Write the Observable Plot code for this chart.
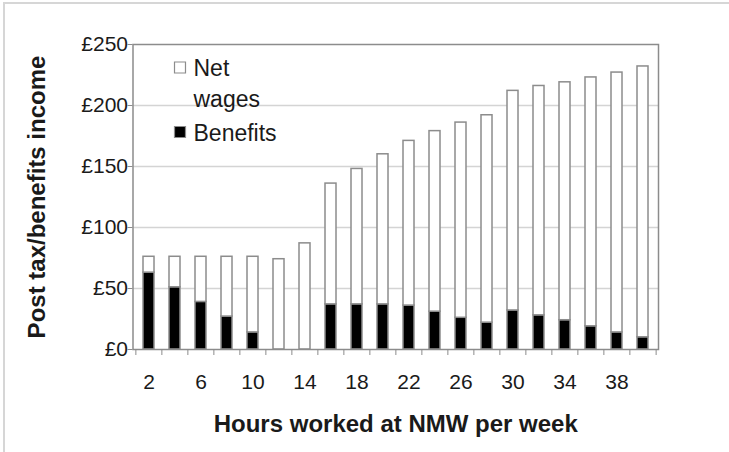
<!DOCTYPE html>
<html>
<head>
<meta charset="utf-8">
<script src="https://cdn.jsdelivr.net/npm/d3@7"></script>
<script src="https://cdn.jsdelivr.net/npm/@observablehq/plot@0.6"></script>
<style>
  html, body { margin: 0; padding: 0; background: #fff; }
  #wrap { position: relative; width: 729px; height: 452px; overflow: hidden; }
  #wrap svg { position: absolute; left: 0; top: 0; }
  .bl { position: absolute; left: 3px; top: 2px; width: 2px; height: 452px; background: #d6d6d6; }
  .bt { position: absolute; left: 3px; top: 2px; width: 726px; height: 2px; background: #d6d6d6; }
</style>
</head>
<body>
<div id="wrap"><div class="bl"></div><div class="bt"></div></div>
<script>
const hours = [2,4,6,8,10,12,14,16,18,20,22,24,26,28,30,32,34,36,38,40];
const benefits = [63,51,39,27,14,0,0,37,37,37,36,31,26,22,32,28,24,19,14,10];
const netWages = [13,25,37,49,62,74,87,99,111,123,135,148,160,170,180,188,195,204,213,222];
const yTicks = [0,50,100,150,200,250];
const xTickLabels = [2,6,10,14,18,22,26,30,34,38];
const seriesNames = ["Benefits","Net wages"];
const seriesColors = ["black","white"];

const rows = [];
hours.forEach((h, i) => {
  rows.push({hours: h, series: "Benefits", value: benefits[i]});
  rows.push({hours: h, series: "Net wages", value: netWages[i]});
});

const FONT = "'Liberation Sans', Arial, sans-serif";
const INK = "#1a1a1a";
const LINE = "#8c8c8c";
const halfStep = 13.14;

const chart = Plot.plot({
  width: 729,
  height: 452,
  marginLeft: 132.5,
  marginRight: 71,
  marginTop: 44,
  marginBottom: 103,
  style: {fontFamily: FONT, background: "transparent", overflow: "visible"},
  x: {type: "band", domain: hours, paddingInner: 0.58, paddingOuter: 0.29, axis: null},
  y: {domain: [0, 250], axis: null},
  color: {domain: seriesNames, range: seriesColors},
  marks: [
    Plot.gridY(yTicks.slice(1, -1), {stroke: "#d4d4d4", strokeOpacity: 1, strokeWidth: 1.5}),
    Plot.barY(rows.filter(d => d.value > 0), {x: "hours", y: "value", fill: "series", stroke: LINE, strokeWidth: 1.5}),
    Plot.frame({stroke: LINE, strokeWidth: 1.5}),
    Plot.axisY({ticks: yTicks, tickFormat: d => "£" + d, tickSize: 5, tickPadding: 0, fontSize: 21, stroke: LINE, fill: INK, label: null}),
    Plot.axisX({ticks: hours, tickFormat: () => "", tickSize: 6, dx: -halfStep, stroke: LINE, label: null}),
    Plot.axisX({ticks: [hours[hours.length - 1]], tickFormat: () => "", tickSize: 6, dx: halfStep, stroke: LINE, label: null}),
    Plot.axisX({ticks: xTickLabels, tickSize: 0, tickPadding: 25, fontSize: 21, fill: INK, label: null}),
    // legend
    Plot.dot([seriesNames[1]], {frameAnchor: "top-left", dx: 47, dy: 23, symbol: "square", r: 6.2, fill: seriesColors[1], stroke: LINE, strokeWidth: 1.2}),
    Plot.dot([seriesNames[0]], {frameAnchor: "top-left", dx: 47, dy: 87.5, symbol: "square", r: 6.2, fill: seriesColors[0], stroke: LINE, strokeWidth: 1.2}),
    Plot.text(["Net"], {frameAnchor: "top-left", dx: 60.5, dy: 31, textAnchor: "start", lineAnchor: "bottom", fontSize: 23, fill: INK}),
    Plot.text(["wages"], {frameAnchor: "top-left", dx: 60.5, dy: 62, textAnchor: "start", lineAnchor: "bottom", fontSize: 23, fill: INK}),
    Plot.text([seriesNames[0]], {frameAnchor: "top-left", dx: 60.5, dy: 96, textAnchor: "start", lineAnchor: "bottom", fontSize: 23, fill: INK}),
    // axis titles
    Plot.text(["Hours worked at NMW per week"], {frameAnchor: "bottom", dy: 82, lineAnchor: "bottom", fontSize: 24, fontWeight: "bold", fill: INK}),
    Plot.text(["Post tax/benefits income"], {frameAnchor: "left", dx: -88.5, rotate: -90, textAnchor: "middle", lineAnchor: "bottom", fontSize: 24, fontWeight: "bold", fill: INK})
  ]
});
document.getElementById("wrap").appendChild(chart);
</script>
</body>
</html>
